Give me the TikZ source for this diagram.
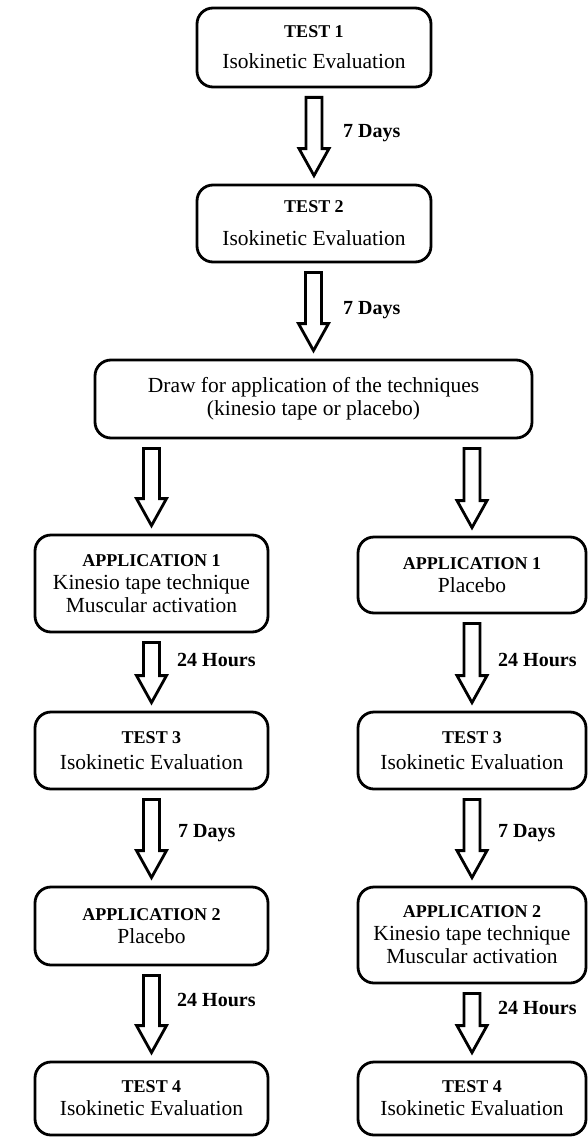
\documentclass[tikz,border=0pt]{standalone}
\usepackage{fontspec}
\setmainfont{Liberation Serif}
\usetikzlibrary{calc}
\newcommand\hd[1]{{\fontsize{18}{20}\selectfont\bfseries #1}}
\tikzset{
  box/.style={draw, line width=2.8pt, rounded corners=16pt, align=center, inner sep=0pt,
    font=\fontsize{21.5}{23}\selectfont},
  barrow/.style={draw, line width=2.8pt, line join=miter, fill=white},
  lbl/.style={anchor=west, inner sep=0pt, font=\fontsize{20}{22}\selectfont\bfseries},
}
\newcommand\flowarrow[2]{%
  \draw[barrow] let \p1=(#2.north), \p2=(#1.south) in
    (\x1-8pt,\y2-9pt) -- (\x1+8pt,\y2-9pt) -- (\x1+8pt,\y1+35pt) -- (\x1+15pt,\y1+35pt)
    -- (\x1,\y1+8pt) -- (\x1-15pt,\y1+35pt) -- (\x1-8pt,\y1+35pt) -- cycle;}
\begin{document}
\begin{tikzpicture}[x=1pt,y=-1pt]
\useasboundingbox (0,0) rectangle (587,1137);
\node[box, minimum width=234pt, minimum height=79pt] (t1) at (314,47.5) {\hd{TEST 1}\\[8pt] Isokinetic Evaluation};
\node[box, minimum width=234pt, minimum height=77pt] (t2) at (314,223.5) {\hd{TEST 2}\\[10pt] Isokinetic Evaluation};
\node[box, minimum width=437pt, minimum height=78pt] (dr) at (313.5,399) {Draw for application of the techniques\\ (kinesio tape or placebo)};
\node[box, minimum width=233pt, minimum height=97pt] (a1l) at (151.5,583.5) {\hd{APPLICATION 1}\\ Kinesio tape technique\\ Muscular activation};
\node[box, minimum width=228pt, minimum height=76pt] (a1r) at (472,575) {\hd{APPLICATION 1}\\ Placebo};
\node[box, minimum width=233pt, minimum height=77pt] (t3l) at (151.5,750.5) {\hd{TEST 3}\\[3pt] Isokinetic Evaluation};
\node[box, minimum width=228pt, minimum height=77pt] (t3r) at (472,750.5) {\hd{TEST 3}\\[3pt] Isokinetic Evaluation};
\node[box, minimum width=233pt, minimum height=78pt] (a2l) at (151.5,926) {\hd{APPLICATION 2}\\ Placebo};
\node[box, minimum width=228pt, minimum height=96pt] (a2r) at (472,935) {\hd{APPLICATION 2}\\ Kinesio tape technique\\ Muscular activation};
\node[box, minimum width=233pt, minimum height=73pt] (t4l) at (151.5,1098.5) {\hd{TEST 4}\\ Isokinetic Evaluation};
\node[box, minimum width=228pt, minimum height=73pt] (t4r) at (472,1098.5) {\hd{TEST 4}\\ Isokinetic Evaluation};
\flowarrow{t1}{t2}
\flowarrow{t2}{dr}
\flowarrow{dr}{a1l}
\flowarrow{dr}{a1r}
\flowarrow{a1l}{t3l}
\flowarrow{a1r}{t3r}
\flowarrow{t3l}{a2l}
\flowarrow{t3r}{a2r}
\flowarrow{a2l}{t4l}
\flowarrow{a2r}{t4r}
\node[lbl] (l1) at (343,133) {7 Days};
\node[lbl] (l2) at (343,310) {7 Days};
\node[lbl] (l3) at (177,660) {24 Hours};
\node[lbl] (l4) at (498,660) {24 Hours};
\node[lbl] (l5) at (178,833) {7 Days};
\node[lbl] (l6) at (498,833) {7 Days};
\node[lbl] (l7) at (177,1000) {24 Hours};
\node[lbl] (l8) at (498,1008) {24 Hours};
\end{tikzpicture}
\end{document}
